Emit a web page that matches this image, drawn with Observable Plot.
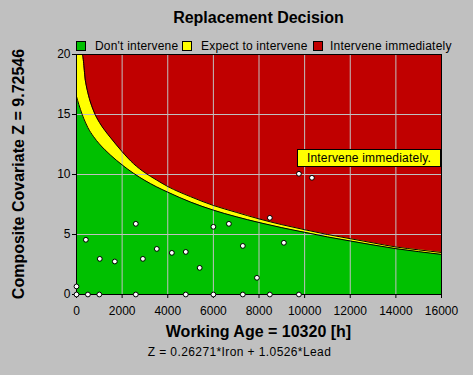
<!DOCTYPE html>
<html>
<head>
<meta charset="utf-8">
<script src="https://cdn.jsdelivr.net/npm/d3@7"></script>
<script src="https://cdn.jsdelivr.net/npm/@observablehq/plot@0.6"></script>
<style>
  html, body { margin: 0; padding: 0; background: #C0C0C0; }
  #chart { position: relative; width: 473px; height: 375px; background: #C0C0C0; overflow: hidden;
           font-family: "Liberation Sans", Arial, sans-serif; color: #000; }
  #chart svg { position: absolute; left: 0; top: 0; }
  .abs { position: absolute; white-space: nowrap; }
  .bold16 { font-weight: bold; font-size: 16px; line-height: 16px; }
  .reg12 { font-size: 12px; line-height: 12px; }
  .sq { position: absolute; width: 8px; height: 8px; border: 1px solid #000; }
</style>
</head>
<body>
<div id="chart"></div>
<script>
// ---- data ----
const titleText = "Replacement Decision";
const xLabel = "Working Age = 10320 [h]";
const yLabel = "Composite Covariate Z = 9.72546";
const formulaText = "Z = 0.26271*Iron + 1.0526*Lead";
const annotationText = "Intervene immediately.";

const legendLabels = ["Don't intervene", "Expect to intervene", "Intervene immediately"];

const xTicks = [0, 2000, 4000, 6000, 8000, 10000, 12000, 14000, 16000];
const yTicks = [0, 5, 10, 15, 20];

// decision boundaries
const boundaryAge = [0, 100, 250, 400, 500, 750, 1000, 1250, 1500, 2000, 2500, 3000, 3500, 4000, 5000, 6000, 7000, 8000, 9000, 10000, 11000, 12000, 13000, 14000, 15000, 16000];
const lowerZ = [16.5, 15.85, 15.0, 14.3, 13.9, 13.15, 12.55, 12.05, 11.6, 10.8, 10.1, 9.5, 8.98, 8.53, 7.7, 7.03, 6.48, 6.0, 5.57, 5.18, 4.8, 4.46, 4.13, 3.82, 3.57, 3.34];
const upperZ = [26.0, 23.5, 20.0, 17.7, 16.8, 15.3, 14.35, 13.65, 13.05, 11.9, 10.9, 10.15, 9.55, 9.0, 8.15, 7.42, 6.85, 6.3, 5.82, 5.4, 5.0, 4.65, 4.3, 3.96, 3.72, 3.5];

// inspection points
const pointAge = [0, 0, 500, 1000, 2600, 4790, 6000, 7290, 8475, 9750, 410, 1020, 1680, 2600, 2910, 3520, 4180, 4790, 5400, 6000, 6680, 7290, 7910, 8475, 9090, 9750, 10320];
const pointZ = [0.67, 0, 0, 0, 0, 0, 0, 0, 0, 0, 4.56, 2.97, 2.75, 5.89, 2.97, 3.8, 3.47, 3.55, 2.22, 5.64, 5.89, 4.05, 1.39, 6.39, 4.31, 10.06, 9.72546];

// ---- build ----
const GREEN = "#00C000", YELLOW = "#FFFF00", RED = "#C00000", GRID = "#C0C0C0";
const legendColors = [GREEN, YELLOW, RED];

const boundary = boundaryAge.map((a, i) => ({age: a, lower: lowerZ[i], upper: upperZ[i]}));
const points = pointAge.map((a, i) => ({age: a, z: pointZ[i]}));

const W = 473, H = 375;
const mL = 76, mR = 32, mT = 54, mB = 81;

const plot = Plot.plot({
  width: W,
  height: H,
  marginLeft: mL,
  marginRight: mR,
  marginTop: mT,
  marginBottom: mB,
  style: {background: "transparent", fontSize: "12px", fontFamily: "'Liberation Sans', Arial, sans-serif", color: "#000"},
  x: {domain: [0, 16000], ticks: xTicks, tickSize: 4, tickPadding: 8, tickFormat: d => String(d), label: null},
  y: {domain: [0, 20], ticks: yTicks, tickSize: 4, tickPadding: 2, tickFormat: d => String(d), label: null, clamp: true},
  marks: [
    Plot.frame({fill: RED, stroke: null}),
    Plot.areaY(boundary, {x: "age", y1: 0, y2: "upper", fill: YELLOW, curve: "monotone-x"}),
    Plot.areaY(boundary, {x: "age", y1: 0, y2: "lower", fill: GREEN, curve: "monotone-x"}),
    Plot.ruleX(xTicks, {stroke: GRID, strokeWidth: 1}),
    Plot.ruleY(yTicks, {stroke: GRID, strokeWidth: 1}),
    Plot.line(boundary, {x: "age", y: "upper", stroke: "#000", strokeWidth: 1, curve: "monotone-x"}),
    Plot.line(boundary, {x: "age", y: "lower", stroke: "#000", strokeWidth: 1, curve: "monotone-x"}),
    Plot.frame({stroke: "#000", strokeWidth: 1}),
    Plot.dot(points, {x: "age", y: "z", r: 2.4, fill: "#fff", stroke: "#000", strokeWidth: 1})
  ]
});

const chart = document.getElementById("chart");
chart.appendChild(plot);

const plotCenterX = (mL + (W - mR)) / 2;

function addText(txt, cls, css) {
  const d = document.createElement("div");
  d.className = "abs " + cls;
  d.textContent = txt;
  Object.assign(d.style, css);
  chart.appendChild(d);
  return d;
}

// title
addText(titleText, "bold16", {left: (plotCenterX - 200) + "px", width: "400px", textAlign: "center", top: "10px"});

// legend
const legendSquares = [76, 182, 313];
const legendTexts = [95, 201, 330];
legendLabels.forEach((lab, i) => {
  const s = document.createElement("div");
  s.className = "sq";
  s.style.left = legendSquares[i] + "px";
  s.style.top = "41px";
  s.style.background = legendColors[i];
  chart.appendChild(s);
  addText(lab, "reg12", {left: legendTexts[i] + "px", top: "39.5px", letterSpacing: "0.2px"});
});

// x label
addText(xLabel, "bold16", {left: (plotCenterX - 200) + "px", width: "400px", textAlign: "center", top: "324px"});
// formula
addText(formulaText, "reg12", {left: (239.5 - 150) + "px", width: "300px", textAlign: "center", top: "345.5px", letterSpacing: "0.4px"});
// y label
addText(yLabel, "bold16", {left: "19px", top: "174px", transform: "translate(-50%, -50%) rotate(-90deg)"});

// annotation box
addText(annotationText, "reg12", {
  left: "297px", top: "149px", width: "142px", height: "16px", lineHeight: "16px",
  background: YELLOW, border: "1px solid #000", textAlign: "center", letterSpacing: "0.2px"
});
</script>
</body>
</html>
